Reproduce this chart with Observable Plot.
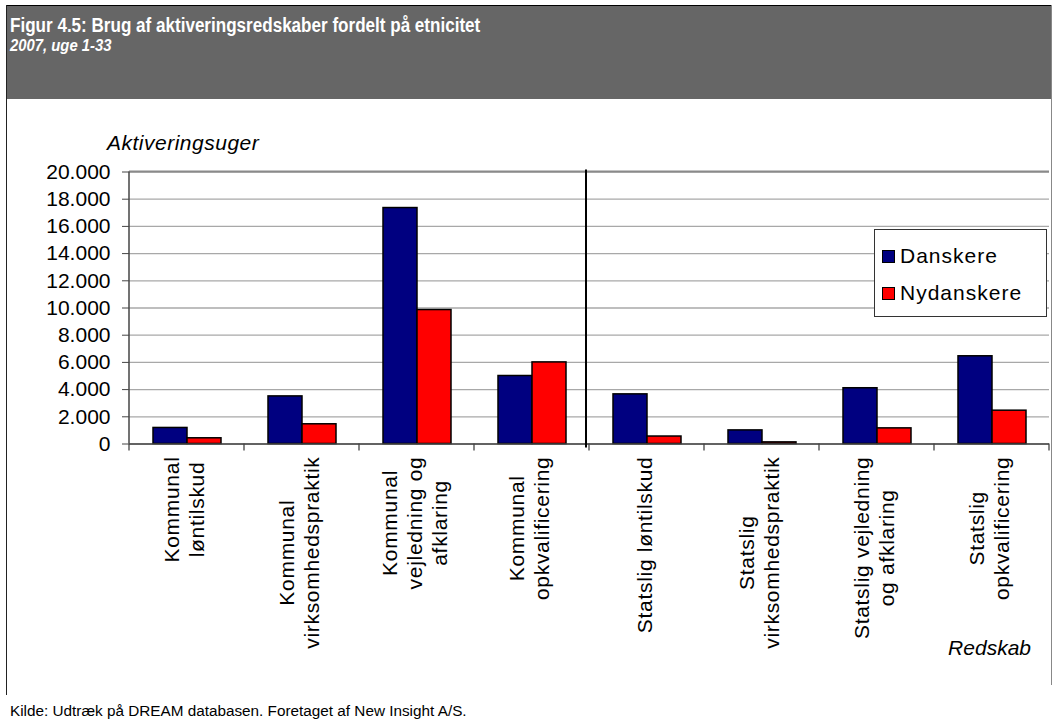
<!DOCTYPE html>
<html>
<head>
<meta charset="utf-8">
<script src="https://cdn.jsdelivr.net/npm/d3@7"></script>
<script src="https://cdn.jsdelivr.net/npm/@observablehq/plot@0.6"></script>
<style>
  body { margin: 0; background: #fff; font-family: "Liberation Sans", Arial, sans-serif; }
  #page { position: relative; width: 1057px; height: 721px; overflow: hidden; background: #fff; }
  #band { position: absolute; left: 6px; top: 5px; width: 1046px; height: 93px; background: #666666; border-top: 1px solid #000; }
  .abs { position: absolute; white-space: nowrap; line-height: 1; }
  #title { left: 10px; top: 16px; font-size: 19.5px; font-weight: bold; color: #fff; transform: scaleX(0.875); transform-origin: 0 0; }
  #subtitle { left: 10px; top: 37px; font-size: 16.5px; font-weight: bold; font-style: italic; color: #fff; transform: scaleX(0.9); transform-origin: 0 0; }
  #frameL { position: absolute; left: 6px; top: 5px; width: 1px; height: 690px; background: #222; }
  #frameR { position: absolute; left: 1051px; top: 5px; width: 1px; height: 680px; background: #888; }
  #chart { position: absolute; left: 0; top: 99px; }
  #ytitle { left: 107px; top: 131.5px; font-size: 21px; font-style: italic; color: #000; letter-spacing: 0.5px; }
  #xtitle { right: 26px; top: 637px; font-size: 21px; font-style: italic; color: #000; }
  #caption { left: 10px; top: 703px; font-size: 15.3px; color: #000; }
  #legend { position: absolute; left: 874px; top: 229px; width: 173px; height: 88px; background: #fff; border: 1px solid #333; box-sizing: border-box; }
  .sw { position: absolute; width: 13px; height: 13px; border: 1px solid #000; box-sizing: border-box; }
  .lt { position: absolute; font-size: 21px; line-height: 1; letter-spacing: 1px; color: #000; white-space: nowrap; }
</style>
</head>
<body>
<div id="page">
  <div id="band"></div>
  <div id="title" class="abs">Figur 4.5: Brug af aktiveringsredskaber fordelt på etnicitet</div>
  <div id="subtitle" class="abs">2007, uge 1-33</div>
  <div id="frameL"></div>
  <div id="frameR"></div>
  <div id="chart"></div>
  <div id="ytitle" class="abs">Aktiveringsuger</div>
  <div id="xtitle" class="abs">Redskab</div>
  <div id="legend"></div>
  <div id="caption" class="abs">Kilde: Udtræk på DREAM databasen. Foretaget af New Insight A/S.</div>
</div>
<script>
// ---- Data ----
const categories = [
  "Kommunal løntilskud",
  "Kommunal virksomhedspraktik",
  "Kommunal vejledning og afklaring",
  "Kommunal opkvalificering",
  "Statslig løntilskud",
  "Statslig virksomhedspraktik",
  "Statslig vejledning og afklaring",
  "Statslig opkvalificering"
];
const tickLabels = [
  "Kommunal\nløntilskud",
  "Kommunal\nvirksomhedspraktik",
  "Kommunal\nvejledning og\nafklaring",
  "Kommunal\nopkvalificering",
  "Statslig løntilskud",
  "Statslig\nvirksomhedspraktik",
  "Statslig vejledning\nog afklaring",
  "Statslig\nopkvalificering"
];
const series = ["Danskere", "Nydanskere"];
const colors = ["#000080", "#ff0000"];
const danskere   = [1180, 3500, 17350, 5000, 3650, 1000, 4100, 6450];
const nydanskere = [420, 1450, 9850, 6000, 550, 120, 1150, 2450];
const yTicks = [0, 2000, 4000, 6000, 8000, 10000, 12000, 14000, 16000, 18000, 20000];

const data = [];
categories.forEach((c, i) => {
  data.push({category: c, series: series[0], value: danskere[i]});
  data.push({category: c, series: series[1], value: nydanskere[i]});
});

const fmt = d => d3.format(",")(d).replace(/,/g, ".");

const W = 1057, H = 600;
const chart = Plot.plot({
  width: W,
  height: H,
  marginLeft: 129,
  marginRight: 8,
  marginTop: 72.5,
  marginBottom: 255.5,
  style: {fontFamily: "'Liberation Sans', Arial, sans-serif", fontSize: "21px", background: "transparent", color: "#000"},
  fx: {domain: categories, padding: 0, axis: null},
  x: {domain: series, paddingInner: 0, paddingOuter: 0.68, axis: null},
  y: {domain: [0, 20000]},
  color: {domain: series, range: colors},
  marks: [
    Plot.gridY(yTicks, {stroke: "#a8a8a8", strokeOpacity: 1, strokeWidth: 1.3}),
    Plot.axisY({ticks: yTicks, tickFormat: fmt, tickSize: 7, tickPadding: 12, fontSize: 21, label: null, stroke: "#444"}),
    Plot.barY(data, {fx: "category", x: "series", y: "value", fill: "series", stroke: "#000", strokeWidth: 1.5, inset: 0}),
    Plot.ruleY([0], {stroke: "#444", strokeWidth: 1.5})
  ]
});
document.getElementById("chart").appendChild(chart);

// ---- Post-processing with the plot's own scales ----
const svg = d3.select(chart);
const fx = chart.scale("fx");
const y = chart.scale("y");
const bw = fx.bandwidth;
const y0 = y.apply(0), yTop = y.apply(y.domain[1]);
const bounds = categories.map(c => fx.apply(c)).concat([fx.apply(categories[categories.length - 1]) + bw]);

const g = svg.append("g");
g.append("line").attr("x1", bounds[0]).attr("x2", bounds[bounds.length - 1])
  .attr("y1", yTop).attr("y2", yTop).attr("stroke", "#8a8a8a").attr("stroke-width", 2);
g.append("line").attr("x1", bounds[0]).attr("x2", bounds[0])
  .attr("y1", yTop).attr("y2", y0).attr("stroke", "#444").attr("stroke-width", 1.5);
bounds.forEach(b => {
  g.append("line").attr("x1", b).attr("x2", b).attr("y1", y0).attr("y2", y0 + 7)
    .attr("stroke", "#444").attr("stroke-width", 1.3);
});
const sep = bounds[4] - 3;
g.append("line").attr("x1", sep).attr("x2", sep).attr("y1", yTop - 2).attr("y2", y0 + 4)
  .attr("stroke", "#000").attr("stroke-width", 2);

// category labels (rotated, multi-line, centered)
const labelTop = y0 + 13;
const pitch = 25;
categories.forEach((c, i) => {
  const lines = tickLabels[i].split("\n");
  const cx = fx.apply(c) + bw / 2;
  const n = lines.length;
  const els = lines.map((t) => g.append("text")
    .attr("font-size", 21).attr("letter-spacing", "0.7px")
    .attr("fill", "#000").attr("text-anchor", "middle").text(t));
  const maxLen = d3.max(els, e => e.node().getComputedTextLength());
  const cy = labelTop + maxLen / 2;
  els.forEach((e, j) => {
    const bx = cx + (j - (n - 1) / 2) * pitch + 5;
    e.attr("transform", `translate(${bx},${cy}) rotate(-90)`);
  });
});

// legend
const legend = d3.select("#legend");
series.forEach((s, i) => {
  legend.append("div").attr("class", "sw")
    .style("left", "7px").style("top", (20 + i * 37) + "px").style("background", colors[i]);
  legend.append("div").attr("class", "lt")
    .style("left", "25px").style("top", (15 + i * 37) + "px").text(s);
});
</script>
</body>
</html>
